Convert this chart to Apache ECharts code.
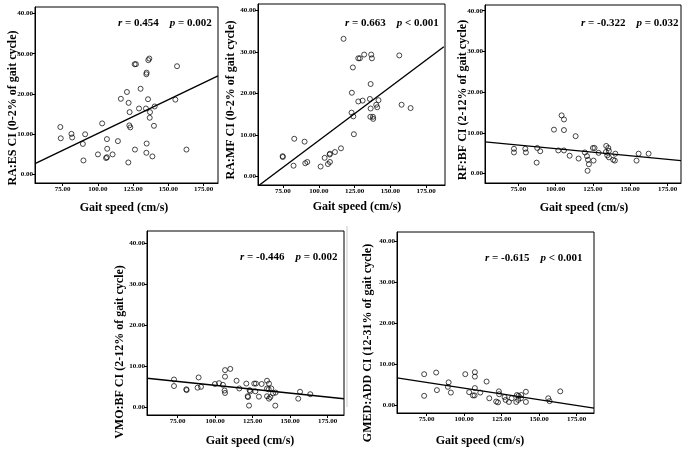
<!DOCTYPE html>
<html><head><meta charset="utf-8">
<script src="https://cdn.jsdelivr.net/npm/echarts@6/dist/echarts.min.js"></script>
<style>html,body{margin:0;padding:0;background:#fff}#c{width:685px;height:449px}</style>
</head><body><div id="c"></div>
<script>
// ---------- data ----------
const xTicks = [75, 100, 125, 150, 175];
const yTicks = [0, 10, 20, 30, 40];
const xTitle = 'Gait speed (cm/s)';
const yTitles = [
  'RA:ES CI (0-2% of gait cycle)',
  'RA:MF CI (0-2% of gait cycle)',
  'RF:BF CI (2-12% of gait cycle)',
  'VMO:BF CI (2-12% of gait cycle)',
  'GMED:ADD CI (12-31% of gait cycle)'
];
const statR = ['0.454', '0.663', '-0.322', '-0.446', '-0.615'];
const statP = ['= 0.002', '< 0.001', '= 0.032', '= 0.002', '< 0.001'];

const p1Speed = [73.3,73.6,81.2,81.7,89.3,90.9,89.7,100.0,103.0,106.4,106.6,105.8,106.4,110.4,114.2,116.3,120.6,121.8,122.5,122.3,123.0,121.6,126.3,126.1,127.0,129.2,130.3,134.4,134.6,135.8,136.5,135.6,134.1,137.0,136.8,140.3,139.8,134.6,134.4,138.7,155.0,156.2,162.9];
const p1CI    = [11.8,9.0,10.1,9.2,7.6,10.0,3.5,5.0,12.7,8.8,6.4,4.1,4.3,5.0,8.3,18.8,20.5,17.8,15.5,12.2,11.7,3.0,6.2,27.4,27.4,16.4,21.3,24.9,25.3,28.4,28.8,18.7,16.4,15.5,14.1,16.9,12.1,7.7,5.4,4.5,18.6,26.9,6.2];

const p2Speed = [117.3,74.8,74.9,82.9,82.4,90.1,90.6,92.0,101.3,104.1,106.4,107.8,107.8,107.6,111.3,115.5,123.8,123.1,122.9,124.1,124.5,127.6,128.7,127.6,130.6,131.7,136.2,135.7,136.2,136.0,137.8,138.0,136.6,137.1,140.1,140.8,141.7,156.2,157.8,164.1];
const p2CI    = [33.2,4.9,4.7,9.1,2.6,8.4,3.2,3.5,2.4,4.5,3.0,3.5,5.5,5.3,5.9,6.8,26.3,20.2,15.4,14.5,10.2,28.5,28.5,18.1,18.3,29.4,22.3,18.7,16.4,14.4,14.4,13.9,29.4,28.5,17.3,16.7,18.4,29.2,17.3,16.5];

const p3Speed = [72.1,72.1,79.7,80.1,87.7,89.7,87.3,98.9,101.8,104.0,105.6,105.6,105.6,109.4,113.4,115.4,119.6,121.0,121.7,122.3,121.4,125.0,126.1,125.4,128.8,133.9,135.3,133.7,135.7,134.6,135.7,138.6,139.7,140.0,154.2,155.6,162.3];
const p3CI    = [6.1,5.2,6.1,5.2,6.3,5.5,2.7,10.8,5.7,14.3,13.3,10.7,5.7,4.4,9.2,3.7,5.2,4.3,3.4,2.3,0.7,6.3,6.3,3.2,5.1,6.8,6.3,5.3,5.6,4.5,4.0,3.4,3.2,4.9,3.2,4.9,4.9];

const p4Speed = [72.6,72.6,80.8,81.0,89.0,88.3,90.6,99.9,102.6,105.2,106.6,106.6,106.3,106.6,110.1,114.3,116.1,120.8,121.7,121.9,122.6,123.0,123.4,126.1,127.2,126.8,129.2,131.0,134.6,135.9,134.6,135.7,137.4,134.6,135.9,136.8,138.6,140.3,140.1,155.4,156.6,163.4];
const p4CI    = [6.7,5.1,4.3,4.1,7.2,4.7,4.9,5.6,5.8,5.4,9.0,7.4,4.0,3.4,9.3,6.4,4.5,5.7,2.6,2.4,0.3,4.1,3.8,5.7,5.7,3.8,2.5,5.6,6.4,5.7,4.5,4.3,4.5,2.6,2.0,2.4,3.3,3.5,0.3,2.0,3.7,3.1];

const p5Speed = [73.4,73.4,81.4,81.9,89.7,89.2,91.2,100.8,103.4,105.9,107.0,107.2,107.2,107.2,110.8,115.0,116.8,121.4,122.6,123.2,123.4,127.0,127.7,129.9,131.7,135.2,136.3,134.8,136.1,137.9,138.1,141.2,141.2,156.1,157.0,164.1];
const p5CI    = [7.5,2.2,7.9,3.6,5.5,4.4,3.0,7.5,3.1,2.3,2.3,8.0,6.9,4.1,3.0,5.7,1.6,0.8,0.6,3.3,2.6,1.9,1.2,0.7,1.6,2.4,2.2,0.7,1.2,1.6,2.4,3.2,0.7,1.6,0.9,3.3];

// regression line endpoints [speed, CI]
const p1Fit = [[55.3, 2.7], [185.3, 24.5]];
const p2Fit = [[58.6, -2.05], [187.3, 31.3]];
const p3Fit = [[52.7, 7.8], [184.0, 3.2]];
const p4Fit = [[54.6, 7.0], [185.9, 2.0]];
const p5Fit = [[55.3, 6.6], [186.6, -0.8]];

// ---------- layout ----------
const panels = [
  {speed:p1Speed, ci:p1CI, fit:p1Fit, g:{left:35, top:7, width:183, height:176}, x:[55.3,185.3], y:[-2.1,41.6],
   xt:[124,208], yt:[13,108], st:[118,23]},
  {speed:p2Speed, ci:p2CI, fit:p2Fit, g:{left:258, top:4, width:187, height:181}, x:[57.6,188.1], y:[-2.05,41.6],
   xt:[357,207], yt:[231,100], st:[345,23]},
  {speed:p3Speed, ci:p3CI, fit:p3Fit, g:{left:485, top:5, width:196, height:178}, x:[52.7,184.0], y:[-2.3,41.4],
   xt:[584,208], yt:[463,100], st:[581,23]},
  {speed:p4Speed, ci:p4CI, fit:p4Fit, g:{left:147, top:231, width:197, height:184}, x:[54.6,185.9], y:[-2.0,43.1],
   xt:[250,441], yt:[120,352], st:[240,257]},
  {speed:p5Speed, ci:p5CI, fit:p5Fit, g:{left:397, top:232, width:197, height:181}, x:[55.3,186.6], y:[-2.0,42.3],
   xt:[480,441], yt:[368,343], st:[485,258]}
];

const SERIF = '"Liberation Serif", "Times New Roman", serif';
const tickLabel = {fontSize:7, fontWeight:'bold', fontFamily:SERIF, color:'#000'};

const option = {
  animation:false,
  backgroundColor:'#fff',
  grid: panels.map(p => Object.assign({show:true, borderColor:'#000', borderWidth:1, backgroundColor:'rgba(0,0,0,0)'}, p.g)),
  xAxis: panels.map((p,i) => ({
    type:'value', gridIndex:i, min:p.x[0], max:p.x[1],
    axisLine:{show:true, onZero:false, lineStyle:{color:'#000', width:1}},
    axisTick:{show:true, length:3, customValues:xTicks, lineStyle:{color:'#000'}},
    axisLabel:Object.assign({customValues:xTicks, margin:3, formatter:v=>Number(v).toFixed(2)}, tickLabel),
    splitLine:{show:false}
  })),
  yAxis: panels.map((p,i) => ({
    type:'value', gridIndex:i, min:p.y[0], max:p.y[1],
    axisLine:{show:true, onZero:false, lineStyle:{color:'#000', width:1}},
    axisTick:{show:true, length:3, customValues:yTicks, lineStyle:{color:'#000'}},
    axisLabel:Object.assign({customValues:yTicks, margin:2, formatter:v=>Number(v).toFixed(2)}, tickLabel),
    splitLine:{show:false}
  })),
  series: [],
  graphic: []
};

panels.forEach((p,i) => {
  option.series.push({
    type:'line', xAxisIndex:i, yAxisIndex:i, data:p.fit, showSymbol:false, silent:true,
    lineStyle:{color:'#000', width:1.4}, z:2
  });
  option.series.push({
    type:'scatter', xAxisIndex:i, yAxisIndex:i, data:p.speed.map((s,j)=>[s,p.ci[j]]),
    symbol:'circle', symbolSize:5, silent:true,
    itemStyle:{color:'rgba(0,0,0,0)', borderColor:'#000', borderWidth:0.9}, z:3
  });
  option.graphic.push({
    type:'text', x:p.xt[0], y:p.xt[1],
    style:{text:xTitle, fontSize:12, fontWeight:'bold', fontFamily:SERIF, fill:'#000',
      align:'center', verticalAlign:'middle', textAlign:'center', textVerticalAlign:'middle'}
  });
  option.graphic.push({
    type:'text', x:p.yt[0], y:p.yt[1], rotation:Math.PI/2,
    style:{text:yTitles[i], fontSize:12, fontWeight:'bold', fontFamily:SERIF, fill:'#000',
      align:'center', verticalAlign:'middle', textAlign:'center', textVerticalAlign:'middle'}
  });
  option.graphic.push({
    type:'text', x:p.st[0], y:p.st[1],
    style:{text:'{i|r} = ' + statR[i] + '    {i|p} ' + statP[i],
      fontSize:11, fontWeight:'bold', fontFamily:SERIF, fill:'#000',
      align:'left', verticalAlign:'middle', textAlign:'left', textVerticalAlign:'middle',
      rich:{i:{fontStyle:'italic', fontWeight:'bold', fontSize:11, fontFamily:SERIF, fill:'#000', color:'#000'}}}
  });
});
option.graphic.push({
  type:'line', shape:{x1:347, y1:226, x2:347, y2:407}, style:{stroke:'#c8c8c8', lineWidth:1}
});

const chart = echarts.init(document.getElementById('c'), null, {renderer:'canvas'});
chart.setOption(option);
</script>
</body></html>
